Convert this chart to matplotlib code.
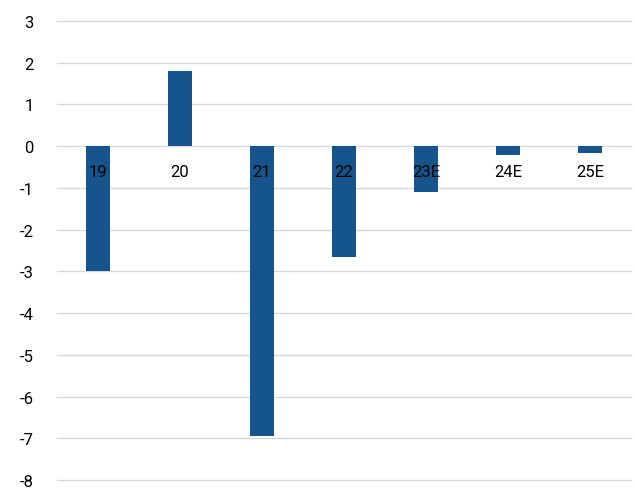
import matplotlib.pyplot as plt

plt.rcParams['font.family'] = ['Roboto', 'DejaVu Sans']

# values
years = ["19", "20", "21", "22", "23E", "24E", "25E"]
values = [-3.0, 1.8, -6.95, -2.65, -1.1, -0.22, -0.17]
yticks = list(range(-8, 4))

fig = plt.figure(figsize=(6.35, 4.89), dpi=100)
ax = fig.add_axes([57/635, 1 - 481/489, (631 - 57)/635, (481 - 22)/489])

x = range(len(years))
ax.bar(x, values, width=0.3, color="#15548c", zorder=3)

# category labels sit just under the zero line
for i, lab in zip(x, years):
    ax.annotate(lab, (i, 0), xytext=(0, -18), textcoords="offset points",
                ha="center", va="center", fontsize=12, color="black", zorder=4)

# horizontal gridlines (not clipped so the edge ones show fully)
for v in yticks:
    ax.axhline(v, color="#d9d9d9", linewidth=1, zorder=0, clip_on=False)

ax.set_xlim(-0.5, len(years) - 0.5)
ax.set_ylim(-8, 3)
ax.set_yticks(yticks)
ax.set_yticklabels([str(v) for v in yticks], fontsize=12)
ax.set_xticks([])
ax.tick_params(axis="y", length=0, pad=17)
for s in ax.spines.values():
    s.set_visible(False)

fig.savefig("out.png", dpi=100)
